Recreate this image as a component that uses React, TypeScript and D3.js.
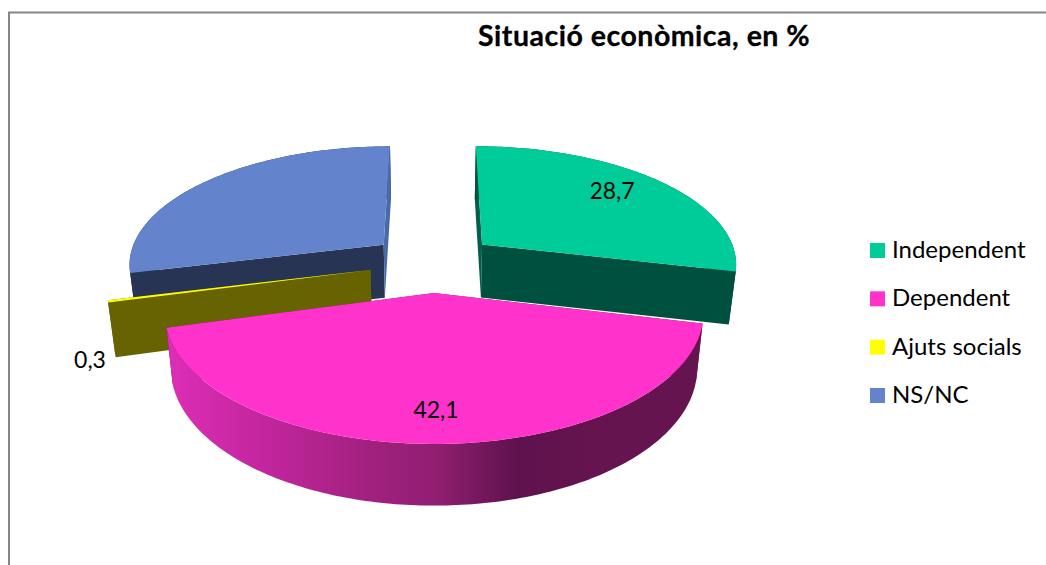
import React from "react";
import * as d3 from "d3";

const categories = ["Independent", "Dependent", "Ajuts socials", "NS/NC"];
const values = [28.7, 42.1, 0.3, 28.9];
const valueLabels = ["28,7", "42,1", "0,3", ""];
const topColors = ["#00cc99", "#ff33cc", "#ffff00", "#6384cc"];
const endFaceColors = ["#00503f", "#66144f", "#666300", "#4a69a8"];
const startFaceColors = ["#00604a", "#66144f", "#666300", "#283454"];
const rimColors = ["#00503f", "#66144f", "#666300", "#283454"];
const title = "Situació econòmica, en %";

const W = 1046, H = 565;
const cx = 433, cy = 262.4, A = 256, B = 118, k = 0.15, explode = 0.25, taper = 0.977;

type P = [number, number];
const project = (u: number, v: number): P => {
  const w = 1 - k * v;
  return [cx + (A * u) / w, cy + (B * v) / w];
};
const depthAt = (y: number) => 53 + Math.max(0, y - 270) * 0.05;
const lower = ([x, y]: P): P => [cx + (x - cx) * taper, y + depthAt(y)];
const pathOf = (pts: P[]) => (d3.line()(pts) ?? "") + "Z";

const arcs = d3.pie<number>().sort(null).startAngle(0).endAngle(2 * Math.PI)(values);

const slices = arcs.map((a, i) => {
  const mid = (a.startAngle + a.endAngle) / 2;
  const ou = explode * Math.sin(mid), ov = -explode * Math.cos(mid);
  const apex = project(ou, ov);
  const n = Math.max(2, Math.ceil((a.endAngle - a.startAngle) * 60));
  const outer: P[] = d3.range(n + 1).map((j) => {
    const t = a.startAngle + ((a.endAngle - a.startAngle) * j) / n;
    return project(ou + Math.sin(t), ov - Math.cos(t));
  });
  return { i, apex, outer };
});

const drawOrder = [3, 0, 2, 1];

const rimStops: [number, string][] = [
  [172, "#dc2db6"], [290, "#bb2496"], [367, "#a2217f"], [440, "#8f1e70"], [517, "#5e124d"], [600, "#66144f"], [695, "#66144f"],
];
const rimScale = d3.scaleLinear().domain([172, 695]).range([0, 100]);

const labelPos: P[] = [[612, 199], [436, 418], [90, 368]];
const legendY = d3.scalePoint<string>().domain(categories).range([250.5, 395.5]);

export default function App() {
  return (
    <svg width={W} height={H} style={{ position: "absolute", left: 0, top: 0, display: "block" }}>
      <defs>
        <linearGradient id="rim" gradientUnits="userSpaceOnUse" x1={172} x2={695} y1={0} y2={0}>
          {rimStops.map(([x, c]) => (
            <stop key={x} offset={`${rimScale(x)}%`} stopColor={c} />
          ))}
        </linearGradient>
      </defs>
      <rect width={W} height={H} fill="#fff" />
      <path d={`M9,${H}V12.5H${W}`} fill="none" stroke="#868686" strokeWidth={2} />
      {drawOrder.map((idx) => {
        const { i, apex, outer } = slices[idx];
        const first = outer[0], last = outer[outer.length - 1];
        const rim = (
          <path d={pathOf([...outer, ...outer.map(lower).reverse()])} fill={i === 1 ? "url(#rim)" : rimColors[i]} />
        );
        return (
          <g key={i}>
            {i === 3 && rim}
            <path d={pathOf([apex, first, lower(first), lower(apex)])} fill={startFaceColors[i]} />
            <path d={pathOf([apex, last, lower(last), lower(apex)])} fill={endFaceColors[i]} />
            {i !== 3 && rim}
            <path d={pathOf([apex, ...outer])} fill={topColors[i]} />
          </g>
        );
      })}
      {valueLabels.map((t, i) =>
        t ? (
          <text key={i} x={labelPos[i][0]} y={labelPos[i][1]} textAnchor="middle" fontFamily="Lato" fontSize={23} fill="#000">
            {t}
          </text>
        ) : null
      )}
      <text x={478} y={46} fontFamily="Lato" fontWeight={700} fontSize={28.5} letterSpacing={0.5} stroke="#000" strokeWidth={0.3} fill="#000">
        {title}
      </text>
      {categories.map((c, i) => (
        <g key={c}>
          <rect x={870} y={legendY(c)! - 7.5} width={15} height={15} fill={topColors[i]} />
          <text x={892} y={legendY(c)! + 7.5} fontFamily="Lato" fontSize={24} fill="#000">
            {c}
          </text>
        </g>
      ))}
    </svg>
  );
}
